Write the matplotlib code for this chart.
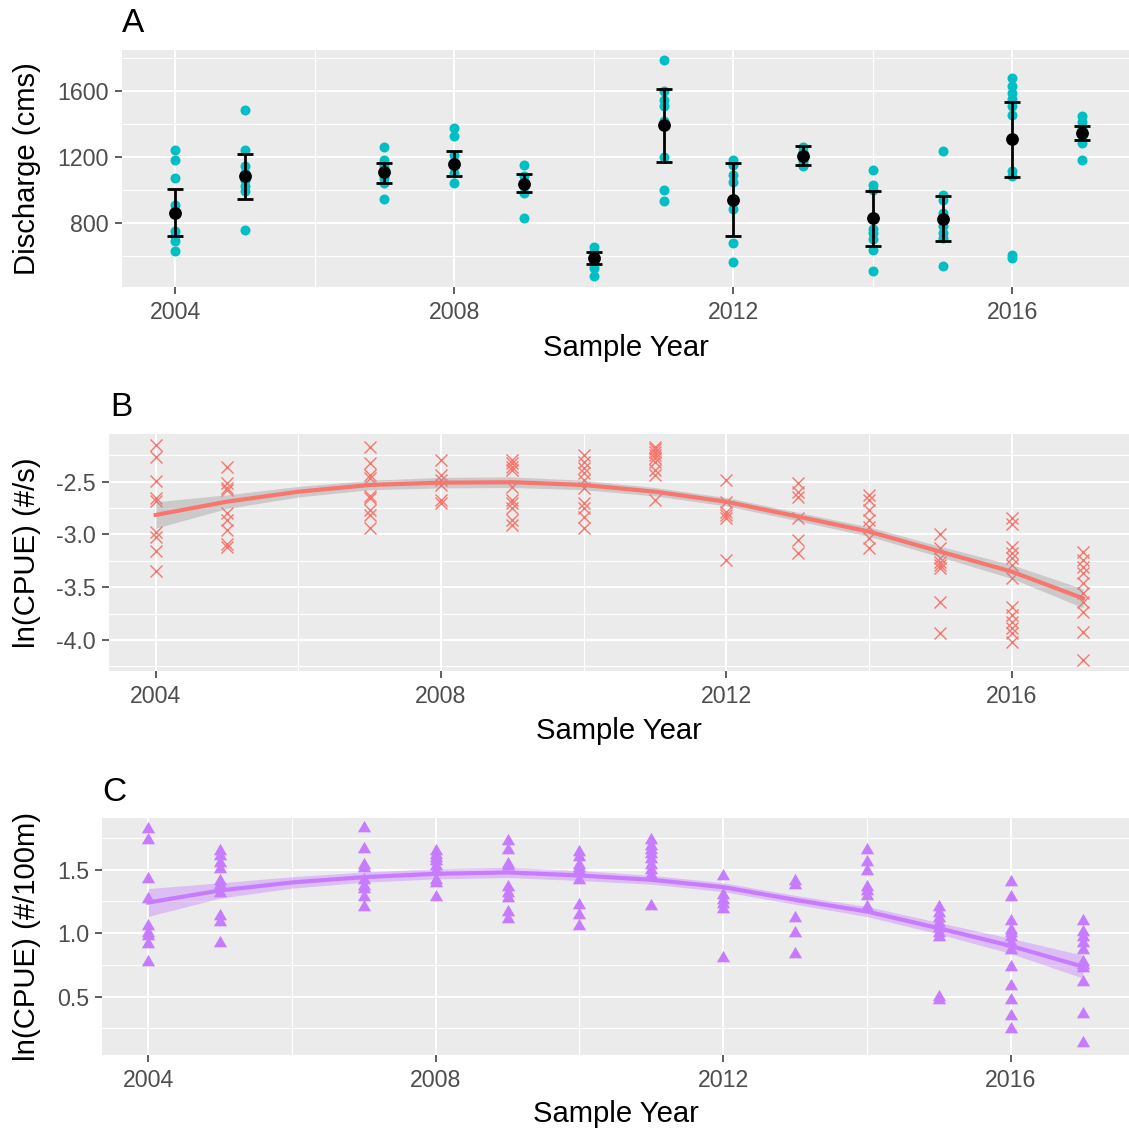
import matplotlib
matplotlib.use("Agg")
import matplotlib.pyplot as plt
import numpy as np

plt.rcParams['font.family'] = ['Liberation Sans', 'DejaVu Sans']

# ---------------- data ----------------
# Panel A: discharge points per year
a_years = [2004, 2005, 2007, 2008, 2009, 2010, 2011, 2012, 2013, 2014, 2015, 2016, 2017]
a_points = {
    2004: [1238, 1182, 1071, 905, 860, 747, 717, 687, 626],
    2005: [1481, 1238, 1141, 1100, 1060, 1020, 990, 758],
    2007: [1261, 1182, 1141, 1100, 1070, 1041, 944],
    2008: [1374, 1323, 1210, 1150, 1100, 1041],
    2009: [1147, 1080, 1040, 980, 829],
    2010: [653, 620, 576, 550, 525, 475],
    2011: [1784, 1600, 1545, 1509, 1414, 1198, 1000, 933],
    2012: [1178, 1150, 1091, 1044, 883, 677, 562],
    2013: [1260, 1230, 1202, 1170, 1141],
    2014: [1117, 1030, 1000, 760, 738, 700, 636, 509],
    2015: [1232, 970, 940, 860, 778, 740, 707, 539],
    2016: [1677, 1626, 1586, 1550, 1510, 1455, 1111, 1080, 606, 586],
    2017: [1444, 1410, 1370, 1330, 1283, 1182],
}
a_mean = [861, 1081, 1105, 1158, 1036, 586, 1394, 939, 1202, 828, 824, 1307, 1343]
a_lower = [717, 946, 1041, 1081, 984, 550, 1168, 717, 1149, 661, 687, 1075, 1299]
a_upper = [1006, 1216, 1164, 1232, 1097, 620, 1612, 1162, 1263, 990, 964, 1531, 1386]

# Panel B: ln(CPUE) (#/s)
b_points = {
    2004: [-2.153, -2.269, -2.494, -2.657, -2.68, -2.973, -3.021, -3.153, -3.343],
    2005: [-2.358, -2.509, -2.563, -2.58, -2.8, -2.863, -2.957, -3.09, -3.115],
    2007: [-2.174, -2.32, -2.437, -2.468, -2.635, -2.657, -2.768, -2.815, -2.941],
    2008: [-2.294, -2.437, -2.484, -2.531, -2.673, -2.705],
    2009: [-2.294, -2.326, -2.358, -2.389, -2.547, -2.673, -2.705, -2.752, -2.863, -2.91],
    2010: [-2.247, -2.31, -2.373, -2.42, -2.484, -2.563, -2.705, -2.752, -2.831, -2.941],
    2011: [-2.169, -2.194, -2.216, -2.247, -2.279, -2.31, -2.389, -2.437, -2.673],
    2012: [-2.484, -2.689, -2.784, -2.815, -2.847, -3.241],
    2013: [-2.516, -2.595, -2.642, -2.847, -3.052, -3.172],
    2014: [-2.626, -2.673, -2.768, -2.863, -2.926, -3.036, -3.131],
    2015: [-2.995, -3.131, -3.226, -3.257, -3.289, -3.32, -3.636, -3.936],
    2016: [-2.847, -2.9, -3.115, -3.178, -3.226, -3.289, -3.415, -3.683, -3.762,
           -3.826, -3.889, -3.936, -4.015],
    2017: [-3.163, -3.241, -3.305, -3.368, -3.462, -3.557, -3.636, -3.731, -3.92, -4.189],
}
fit_years = [2004, 2005, 2006, 2007, 2008, 2009, 2010, 2011, 2012, 2013, 2014, 2015, 2016, 2017]
b_fit = [-2.815, -2.689, -2.595, -2.531, -2.509, -2.505, -2.531, -2.595, -2.69, -2.83,
         -2.973, -3.163, -3.352, -3.605]
b_se = [0.125, 0.065, 0.05, 0.045, 0.05, 0.05, 0.045, 0.04, 0.04, 0.04, 0.045, 0.05, 0.065, 0.09]

# Panel C: ln(CPUE) (#/100m)
c_points = {
    2004: [1.821, 1.732, 1.426, 1.268, 1.058, 1.0, 0.98, 0.916, 0.771],
    2005: [1.645, 1.605, 1.553, 1.505, 1.408, 1.382, 1.316, 1.137, 1.092, 0.921],
    2007: [1.829, 1.663, 1.539, 1.513, 1.421, 1.374, 1.347, 1.289, 1.205],
    2008: [1.645, 1.618, 1.592, 1.566, 1.526, 1.487, 1.421, 1.395, 1.289],
    2009: [1.724, 1.658, 1.545, 1.526, 1.368, 1.316, 1.276, 1.171, 1.111],
    2010: [1.637, 1.6, 1.539, 1.513, 1.487, 1.421, 1.224, 1.145, 1.058],
    2011: [1.732, 1.689, 1.658, 1.624, 1.584, 1.539, 1.495, 1.461, 1.216],
    2012: [1.453, 1.303, 1.263, 1.232, 1.19, 0.803],
    2013: [1.413, 1.382, 1.118, 1.005, 0.837],
    2014: [1.653, 1.558, 1.487, 1.363, 1.329, 1.295, 1.205],
    2015: [1.205, 1.158, 1.118, 1.079, 1.039, 1.0, 0.974, 0.5, 0.474],
    2016: [1.4, 1.284, 1.1, 1.026, 1.0, 0.974, 0.921, 0.868, 0.737, 0.584, 0.474, 0.348, 0.243],
    2017: [1.1, 1.013, 0.974, 0.921, 0.868, 0.776, 0.75, 0.724, 0.618, 0.361, 0.132],
}
c_fit = [1.242, 1.337, 1.40, 1.442, 1.468, 1.479, 1.455, 1.421, 1.363, 1.263, 1.171,
         1.039, 0.90, 0.737]
c_se = [0.11, 0.06, 0.045, 0.04, 0.04, 0.04, 0.04, 0.035, 0.035, 0.035, 0.04, 0.045, 0.06, 0.09]

x_ticks = [2004, 2008, 2012, 2016]
a_yticks = [800, 1200, 1600]
b_yticks = [-4.0, -3.5, -3.0, -2.5]
c_yticks = [0.5, 1.0, 1.5]

# ---------------- figure ----------------
W, H = 1129, 1131
DPI = 100
fig = plt.figure(figsize=(W / DPI, H / DPI), dpi=DPI)
fig.patch.set_facecolor('white')


def add_panel(left, top, right, bottom):
    return fig.add_axes([left / W, 1 - bottom / H, (right - left) / W, (bottom - top) / H])


def style(ax, xlim, ylim, yticks, yminor, ylabels):
    ax.set_facecolor('#EBEBEB')
    for s in ax.spines.values():
        s.set_visible(False)
    ax.set_xlim(*xlim)
    ax.set_ylim(*ylim)
    ax.set_xticks(x_ticks)
    ax.set_xticklabels([str(t) for t in x_ticks])
    ax.set_xticks([2006, 2010, 2014], minor=True)
    ax.set_yticks(yticks)
    ax.set_yticklabels(ylabels)
    ax.set_yticks(yminor, minor=True)
    ax.grid(True, which='major', color='white', linewidth=1.5)
    ax.grid(True, which='minor', color='white', linewidth=0.8)
    ax.set_axisbelow(True)
    ax.tick_params(which='major', direction='out', length=4.8, width=1.1,
                   color='#333333', labelsize=16.7, labelcolor='#4D4D4D')
    ax.tick_params(axis='x', which='major', pad=5.0)
    ax.tick_params(axis='y', which='major', pad=4.5)
    ax.tick_params(which='minor', length=0)


title_fs = 21.1
label_fs = 24

# ---- Panel A ----
axA = add_panel(122, 50, 1129, 287)
style(axA, (2003.24, 2017.67), (410, 1847), a_yticks, [600, 1000, 1400, 1800],
      [str(v) for v in a_yticks])
for yr in a_years:
    pts = a_points[yr]
    axA.plot([yr] * len(pts), pts, 'o', color='#00BFC4', markersize=7.2,
             markeredgewidth=0, zorder=3)
a_err = [np.array(a_mean) - np.array(a_lower), np.array(a_upper) - np.array(a_mean)]
axA.errorbar(a_years, a_mean, yerr=a_err, fmt='o', color='black', markersize=8.2,
             elinewidth=2.0, capsize=5.8, capthick=2.0, zorder=4)

# ---- Panel B ----
axB = add_panel(109, 434, 1129, 671)
style(axB, (2003.345, 2017.645), (-4.294, -2.048), b_yticks,
      [-4.25, -3.75, -3.25, -2.75, -2.25], [f"{v:.1f}" for v in b_yticks])
for yr, pts in b_points.items():
    axB.plot([yr] * len(pts), pts, 'x', color='#F8766D', markersize=8,
             markeredgewidth=1.0, zorder=3)
b_fit_a = np.array(b_fit)
b_se_a = np.array(b_se)
axB.fill_between(fit_years, b_fit_a - b_se_a, b_fit_a + b_se_a, color='#999999',
                 alpha=0.4, linewidth=0, zorder=4)
axB.plot(fit_years, b_fit, color='#F8766D', linewidth=3.0, zorder=5)

# ---- Panel C ----
axC = add_panel(102, 818, 1129, 1055)
style(axC, (2003.356, 2017.646), (0.04, 1.908), c_yticks, [0.25, 0.75, 1.25, 1.75],
      [f"{v:.1f}" for v in c_yticks])
tri = [(-1.0, -0.5774), (1.0, -0.5774), (0.0, 1.1547), (-1.0, -0.5774)]
for yr, pts in c_points.items():
    axC.plot([yr] * len(pts), pts, linestyle='none', marker=tri, color='#C77CFF',
             markersize=11, markeredgewidth=0, zorder=3)
c_fit_a = np.array(c_fit)
c_se_a = np.array(c_se)
axC.fill_between(fit_years, c_fit_a - c_se_a, c_fit_a + c_se_a, color='#C77CFF',
                 alpha=0.4, linewidth=0, zorder=4)
axC.plot(fit_years, c_fit, color='#C77CFF', linewidth=3.0, zorder=5)

# ---- texts ----
def ftext(xp, yp, s, **kw):
    fig.text(xp / W, 1 - yp / H, s, **kw)

ftext(122, 32, 'A', fontsize=label_fs, ha='left', va='baseline')
ftext(110, 416, 'B', fontsize=label_fs, ha='left', va='baseline')
ftext(102, 801, 'C', fontsize=label_fs, ha='left', va='baseline')

ftext(625.5, 356, 'Sample Year', fontsize=title_fs, ha='center', va='baseline')
ftext(619, 739, 'Sample Year', fontsize=title_fs, ha='center', va='baseline')
ftext(615.5, 1122, 'Sample Year', fontsize=title_fs, ha='center', va='baseline')

ftext(35, 168.5, 'Discharge (cms)', fontsize=title_fs, rotation=90,
      rotation_mode='anchor', ha='center', va='baseline')
ftext(35, 552.5, 'ln(CPUE) (#/s)', fontsize=title_fs, rotation=90,
      rotation_mode='anchor', ha='center', va='baseline')
ftext(35, 936.5, 'ln(CPUE) (#/100m)', fontsize=title_fs, rotation=90,
      rotation_mode='anchor', ha='center', va='baseline')

fig.savefig('out.png', dpi=DPI, facecolor='white')
